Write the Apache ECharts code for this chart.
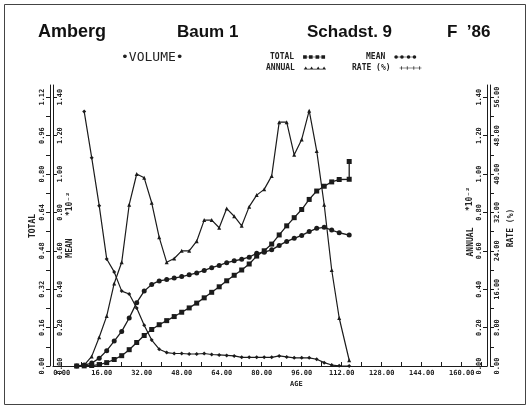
<!DOCTYPE html>
<html><head><meta charset="utf-8">
<script src="https://cdn.jsdelivr.net/npm/echarts@6/dist/echarts.min.js"></script>
<style>html,body{margin:0;padding:0;background:#fff}#c{width:530px;height:409px}</style>
</head><body><div id="c"></div>
<script>
// ---- data ----
const ages   = [6,9,12,15,18,21,24,27,30,33,36,39,42,45,48,51,54,57,60,63,66,69,72,75,78,81,84,87,90,93,96,99,102,105,108,111,115];
const total  = [0,0.0005,0.002,0.006,0.014,0.027,0.043,0.068,0.098,0.127,0.152,0.172,0.189,0.206,0.224,0.242,0.262,0.284,0.307,0.330,0.355,0.378,0.400,0.425,0.458,0.480,0.508,0.546,0.584,0.618,0.652,0.694,0.729,0.749,0.767,0.777,0.778];
const totalFinal = 0.852;
const mean   = [0,0.005,0.015,0.04,0.08,0.13,0.18,0.25,0.33,0.39,0.425,0.443,0.45,0.458,0.466,0.475,0.485,0.498,0.512,0.524,0.538,0.548,0.556,0.567,0.587,0.593,0.605,0.628,0.649,0.665,0.68,0.70,0.717,0.722,0.708,0.694,0.682];
const annual = [0,0.005,0.05,0.15,0.26,0.43,0.54,0.84,1.00,0.98,0.85,0.67,0.54,0.56,0.60,0.60,0.65,0.76,0.76,0.72,0.82,0.78,0.73,0.83,0.89,0.92,0.99,1.27,1.27,1.10,1.18,1.33,1.12,0.84,0.50,0.25,0.03];
const rate   = [null,53,43.4,33.4,22.3,19.6,15.6,15.0,12.1,8.5,5.4,3.5,2.8,2.6,2.6,2.5,2.5,2.6,2.4,2.3,2.2,2.1,1.8,1.8,1.8,1.8,1.8,2.1,1.9,1.7,1.7,1.7,1.4,0.7,0.2,0.05,0.0];
const xTickLabels      = [0,16,32,48,64,80,96,112,128,144,160];
const totalTickLabels  = [0,0.16,0.32,0.48,0.64,0.80,0.96,1.12];
const meanTickLabels   = [0,0.2,0.4,0.6,0.8,1.0,1.2,1.4];
const annualTickLabels = [0,0.2,0.4,0.6,0.8,1.0,1.2,1.4];
const rateTickLabels   = [0,8,16,24,32,40,48,56];

// ---- helpers ----
const halfSteps = arr => { const o=[]; arr.forEach((v,i)=>{o.push(v); if(i<arr.length-1) o.push((v+arr[i+1])/2);}); return o; };
const pairs = (ys) => ages.map((a,i)=>[a, ys[i]]);
const totalPairs = pairs(total); totalPairs.push([ages[ages.length-1], totalFinal]);

const INK = '#1b1b1b';
const tickFont = {fontFamily:'DejaVu Sans Mono', fontSize:7, fontWeight:'bold', color:'#222'};

const chart = echarts.init(document.getElementById('c'), null, {renderer:'canvas'});
const yBase = (pos, off, max, labels, inside, fmt, tickVals) => ({
  type:'value', position:pos, offset:off, min:0, max:max,
  axisLine:{show:true, onZero:false, lineStyle:{color:INK, width:1}},
  axisTick:{show:true, inside:inside, length:4, customValues:tickVals, lineStyle:{color:INK, width:1}},
  axisLabel:Object.assign({show:true, inside:inside, rotate:90, margin:4, customValues:labels, formatter:v=>v.toFixed(fmt)}, tickFont),
  splitLine:{show:false}
});

const iconSquares = 'path://M0,2h30v1H0z M0,0h5v5H0z M8,0h5v5H8z M17,0h5v5H17z M25,0h5v5H25z';
const iconCircles = 'path://M0,2h30v1H0z M5,2.5A2.5,2.5 0 1 1 0,2.5A2.5,2.5 0 1 1 5,2.5z M13,2.5A2.5,2.5 0 1 1 8,2.5A2.5,2.5 0 1 1 13,2.5z M22,2.5A2.5,2.5 0 1 1 17,2.5A2.5,2.5 0 1 1 22,2.5z M30,2.5A2.5,2.5 0 1 1 25,2.5A2.5,2.5 0 1 1 30,2.5z';
const iconTri = 'path://M0,4h30v1H0z M0,5L2.5,1L5,5z M8,5L10.5,1L13,5z M17,5L19.5,1L22,5z M25,5L27.5,1L30,5z';
const iconCross = 'path://M0,2h30v1H0z M2,0h1v5H2z M10,0h1v5H10z M19,0h1v5H19z M27,0h1v5H27z';

const legendText = {fontFamily:'DejaVu Sans Mono', fontSize:8, fontWeight:'bold', color:'#222', padding:[0,4,0,0]};
const mkLegend = (name, left, top, icon) => ({
  data:[name], left:left, top:top, align:'right', icon:icon, itemWidth:22, itemHeight:5,
  textStyle:legendText, selectedMode:false, padding:0
});

chart.setOption({
  animation:false,
  backgroundColor:'#ffffff',
  grid:{left:53, right:43, top:85, bottom:43, containLabel:false},
  xAxis:[{
    type:'value', min:-3.48, max:170.12,
    axisLine:{show:true, onZero:false, lineStyle:{color:INK, width:1}},
    axisTick:{show:true, inside:true, length:4, customValues:halfSteps(xTickLabels).concat([168]), lineStyle:{color:INK}},
    axisLabel:Object.assign({show:true, margin:4, customValues:xTickLabels, formatter:v=>v.toFixed(2)}, tickFont),
    splitLine:{show:false}
  }],
  yAxis:[
    yBase('left', 3, 1.1708, totalTickLabels, false, 2, halfSteps(totalTickLabels)),
    yBase('left', 0, 1.4635, meanTickLabels, true, 2, meanTickLabels),
    yBase('right', 0, 1.4635, annualTickLabels, true, 2, annualTickLabels),
    yBase('right', 3, 58.54, rateTickLabels, false, 2, halfSteps(rateTickLabels))
  ],
  legend:[
    mkLegend('TOTAL', 270, 53, iconSquares),
    mkLegend('ANNUAL', 266, 64, iconTri),
    mkLegend('MEAN', 366, 53, iconCircles),
    mkLegend('RATE (%)', 352, 64, iconCross)
  ],
  series:[
    {name:'TOTAL', type:'line', yAxisIndex:0, data:totalPairs, symbol:'rect', symbolSize:5, showAllSymbol:true,
     lineStyle:{color:INK, width:1.3}, itemStyle:{color:INK}},
    {name:'MEAN', type:'line', yAxisIndex:1, data:pairs(mean), symbol:'circle', symbolSize:5, showAllSymbol:true,
     lineStyle:{color:INK, width:1.3}, itemStyle:{color:INK}},
    {name:'ANNUAL', type:'line', yAxisIndex:2, data:pairs(annual), symbol:'triangle', symbolSize:4, showAllSymbol:true,
     lineStyle:{color:INK, width:1.2}, itemStyle:{color:INK}},
    {name:'RATE (%)', type:'line', yAxisIndex:3, data:pairs(rate), symbol:'diamond', symbolSize:4, showAllSymbol:true,
     lineStyle:{color:INK, width:1.2}, itemStyle:{color:INK}}
  ],
  graphic:[
    {type:'rect', shape:{x:4.5, y:4.5, width:521, height:400}, style:{fill:'none', stroke:'#444', lineWidth:1}, silent:true},
    {type:'text', left:38, top:23, style:{text:'Amberg', font:'bold 18px "Liberation Sans"', fill:'#111'}},
    {type:'text', left:177, top:24, style:{text:'Baum 1', font:'bold 17px "Liberation Sans"', fill:'#111'}},
    {type:'text', left:307, top:24, style:{text:'Schadst. 9', font:'bold 17px "Liberation Sans"', fill:'#111'}},
    {type:'text', left:447, top:24, style:{text:'F  \u201986', font:'bold 17px "Liberation Sans"', fill:'#111'}},
    {type:'text', left:121, top:51, style:{text:'\u2022VOLUME\u2022', font:'13px "DejaVu Sans Mono"', fill:'#222'}},
    {type:'text', left:290, top:381, style:{text:'AGE', font:'bold 7px "DejaVu Sans Mono"', fill:'#222'}},
    {type:'text', x:33, y:226, rotation:Math.PI/2, style:{text:'TOTAL', font:'bold 8px "DejaVu Sans Mono"', fill:'#222', align:'center', verticalAlign:'middle'}},
    {type:'text', x:70, y:248, rotation:Math.PI/2, style:{text:'MEAN', font:'bold 8px "DejaVu Sans Mono"', fill:'#222', align:'center', verticalAlign:'middle'}},
    {type:'text', x:70, y:204, rotation:Math.PI/2, style:{text:'*10\u207B\u00B2', font:'bold 8px "DejaVu Sans Mono"', fill:'#222', align:'center', verticalAlign:'middle'}},
    {type:'text', x:471, y:242, rotation:Math.PI/2, style:{text:'ANNUAL', font:'bold 8px "DejaVu Sans Mono"', fill:'#222', align:'center', verticalAlign:'middle'}},
    {type:'text', x:470, y:199, rotation:Math.PI/2, style:{text:'*10\u207B\u00B2', font:'bold 8px "DejaVu Sans Mono"', fill:'#222', align:'center', verticalAlign:'middle'}},
    {type:'text', x:511, y:228, rotation:Math.PI/2, style:{text:'RATE (%)', font:'bold 8px "DejaVu Sans Mono"', fill:'#222', align:'center', verticalAlign:'middle'}}
  ]
});
</script>
</body></html>
